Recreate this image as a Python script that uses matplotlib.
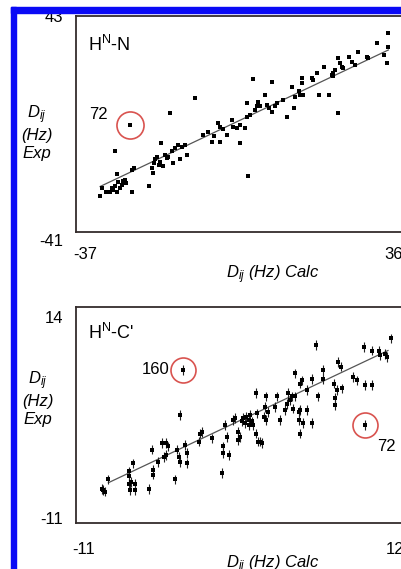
import matplotlib
matplotlib.use('Agg')
from matplotlib import pyplot as plt
from matplotlib.patches import Rectangle
import numpy as np

plt.rcParams['font.family'] = ['Liberation Sans', 'DejaVu Sans']
plt.rcParams['mathtext.fontset'] = 'custom'
plt.rcParams['mathtext.rm'] = 'Liberation Sans'
plt.rcParams['mathtext.it'] = 'Liberation Sans:italic'

# H^N-N couplings (Hz): calculated vs experimental
n_calc = [-33.4, -33.0, -31.9, -31.1, -30.7, -30.3, -29.9, -29.5, -29.1, -29.5,
          -28.7, -28.3, -27.9, -27.5, -27.3, -25.9, -25.9, -25.5, -29.9, -26.3,
          -21.8, -20.8, -21.2, -20.7, -20.4, -20.0, -19.6, -19.2, -18.9, -18.5,
          -18.1, -17.7, -17.3, -16.9, -16.5, -16.1, -15.7, -14.9, -14.5, -14.1,
          -12.9, -13.3, -11.0, -9.2, -7.8, -7.0, -6.6, -5.5, -5.1, -5.1,
          -4.3, -3.5, -2.3, -1.9, -1.1, -0.3, -0.3, 0.9, 1.2, 1.2,
          1.6, 2.0, 2.8, 3.2, 3.6, 4.0, 4.4, 5.6, 6.0, 6.4,
          7.2, 7.2, 7.9, 8.3, 9.9, 10.7, 11.9, 12.3, 12.7, 13.5,
          13.9, 14.3, 14.3, 14.6, 16.6, 17.0, 17.8, 18.2, 19.4, 20.6,
          21.3, 21.7, 22.1, 22.9, 22.9, 23.3, 23.7, 24.1, 25.3, 26.1,
          27.6, 26.9, 29.6, 30.0, 32.0, 33.6, 34.3, 34.7, 34.7, 21.7]
n_exp = [-24.0, -20.9, -22.2, -22.5, -20.9, -21.5, -20.3, -22.2, -18.8, -15.6,
         -20.9, -19.7, -18.4, -17.8, -19.0, -22.5, -14.1, -13.4, -7.0, 2.7,
         -20.0, -15.3, -13.4, -11.6, -10.1, -9.1, -12.2, -11.0, -4.1, -12.8,
         -8.5, -9.7, -9.1, 7.1, -7.2, -11.6, -6.0, -4.7, -10.1, -5.4,
         -8.5, -4.7, 12.9, -1.0, -0.1, -3.5, -1.6, 3.4, 2.1, -3.5,
         1.1, -1.0, 4.6, 2.1, 1.5, -4.1, 2.7, 1.5, 5.8, 10.8,
         -16.3, 6.5, 19.9, 8.3, 9.6, 11.4, 9.6, 13.9, 10.2, 8.9,
         18.9, 7.7, 9.6, 10.8, 12.1, 5.8, 17.0, 8.9, 13.3, 15.2,
         13.9, 20.1, 18.3, 13.9, 20.1, 19.5, 22.0, 13.9, 24.5, 13.9,
         21.4, 22.0, 23.3, 7.1, 27.6, 25.7, 24.5, 23.9, 28.2, 26.4,
         30.1, 25.1, 28.2, 27.6, 33.2, 28.9, 25.7, 36.9, 32.0, 20.8]
n_fit_x = [-33.4, 34.7]
n_fit_y = [-20.3, 30.7]
n_out = (-26.3, 2.7)   # residue 72

# H^N-C' couplings (Hz)
c_calc = [-9.7, -9.6, -9.45, -9.2, -7.7, -7.7, -7.7, -7.6, -7.5, -7.35,
          -7.2, -7.2, -6.2, -6.0, -5.9, -5.9, -5.5, -5.25, -5.1, -4.9,
          -4.9, -4.8, -4.3, -4.1, -4.0, -3.9, -3.9, -3.7, -3.5, -3.4,
          -3.4, -2.5, -2.4, -2.3, -1.55, -0.8, -0.7, -0.7, -0.55, -0.45,
          -0.3, 0.05, 0.2, 0.4, 0.4, 0.55, 0.7, 0.8, 0.9, 1.0,
          1.2, 1.2, 1.3, 1.4, 1.5, 1.7, 1.7, 1.8, 1.9, 2.0,
          2.15, 2.3, 2.4, 2.5, 2.5, 2.65, 3.1, 3.3, 3.5, 3.9,
          4.0, 4.1, 4.25, 4.4, 4.5, 4.6, 4.6, 4.9, 4.9, 5.0,
          5.0, 5.1, 5.2, 5.5, 5.5, 5.0, 5.9, 5.9, 6.2, 6.35,
          6.7, 6.7, 7.5, 7.6, 7.6, 7.7, 7.8, 8.0, 8.1, 8.9,
          9.2, 9.7, 9.8, 9.8, 10.3, 10.3, 10.8, 10.9, 11.3, 11.4, 11.7]
c_exp = [-7.2, -7.3, -7.5, -6.0, -5.0, -5.6, -6.5, -7.3, -6.3, -4.0,
         -6.5, -7.3, -7.2, -2.3, -4.8, -5.4, -3.8, -1.5, -3.2, -3.0,
         -1.5, -1.9, -6.0, -2.3, -3.2, -3.8, 2.0, 7.6, -1.7, -2.75,
         -4.0, -1.3, -0.3, -0.1, -0.9, -5.2, -1.9, -2.75, 0.8, -0.7,
         -3.0, 1.4, 1.6, -1.1, -0.1, -0.7, 1.2, 1.6, 1.0, 1.8,
         1.4, 0.8, 2.0, 1.2, 0.8, 4.7, -0.3, 2.2, -1.3, -1.3,
         -1.5, 1.8, 3.0, 4.3, 1.4, 2.4, 3.0, 4.3, 1.4, 2.6,
         3.4, 4.7, 3.85, 4.3, 2.8, 7.15, 4.3, 1.4, 2.4, 5.9,
         2.6, 6.3, 1.0, 5.1, 2.6, -0.3, 6.5, 1.0, 10.7, 4.3,
         7.6, 6.5, 5.9, 4.1, 3.2, 5.1, 8.6, 8.0, 5.3, 6.7,
         6.3, 10.45, 5.7, 0.8, 5.7, 10.0, 10.0, 9.4, 9.6, 9.2, 11.5]
c_err = 0.6
c_fit_x = [-9.2, 11.5]
c_fit_y = [-6.4, 10.0]
c_out = [(-3.7, 7.6, '160'), (9.8, 0.8, '72')]

W, H = 401, 569
fig = plt.figure(figsize=(W / 100, H / 100), dpi=100)
fig.patch.set_facecolor('white')

edge = '#342c2c'
fs = 12


def frame(ax, xl, yl):
    ax.set_xlim(xl)
    ax.set_ylim(yl)
    ax.set_xticks([])
    ax.set_yticks([])
    for s in ax.spines.values():
        s.set_color(edge)
        s.set_linewidth(1.3)


def ticklabels(ax, xt, yt, xpad):
    for v in xt:
        ax.annotate(str(v), xy=(v, 0), xycoords=('data', 'axes fraction'),
                    xytext=(0, -xpad), textcoords='offset pixels',
                    ha='center', va='center', fontsize=fs, annotation_clip=False)
    for v in yt:
        ax.annotate(str(v), xy=(0, v), xycoords=('axes fraction', 'data'),
                    xytext=(-13, 0), textcoords='offset pixels',
                    ha='right', va='center', fontsize=fs, annotation_clip=False)


# ---- top panel: H^N-N
ax1 = fig.add_axes([76 / W, 1 - 232 / H, 339 / W, 216 / H])
frame(ax1, (-39.1, 41.0), (-37.3, 43.4))
ax1.plot(n_fit_x, n_fit_y, color='#555555', lw=0.9, zorder=2)
ax1.plot(n_calc, n_exp, 's', color='k', ms=3.0, mew=0, zorder=3)
ax1.plot(*n_out, 'o', ms=19.5, mfc='none', mec='#d9534f', mew=1.2, zorder=4)
ax1.annotate('72', xy=n_out, xytext=(-22, 10), textcoords='offset pixels',
             ha='right', va='center', fontsize=fs)
ax1.annotate(r'H$^{\rm N}$-N', xy=(0, 1), xycoords='axes fraction',
             xytext=(12, -29), textcoords='offset pixels',
             ha='left', va='center', fontsize=13)
ticklabels(ax1, [-37, 36], [43, -41], 23)

# ---- bottom panel: H^N-C'
ax2 = fig.add_axes([76 / W, 1 - 523 / H, 339 / W, 216 / H])
frame(ax2, (-11.6, 13.5), (-11.4, 15.4))
ax2.plot(c_fit_x, c_fit_y, color='#555555', lw=0.9, zorder=2)
ax2.errorbar(c_calc, c_exp, yerr=c_err, fmt='s', color='k', ms=3.0, mew=0,
             ecolor='#222222', elinewidth=0.8, capsize=2.0, capthick=0.8, zorder=3)
for x, y, lab in c_out:
    ax2.plot(x, y, 'o', ms=18, mfc='none', mec='#d9534f', mew=1.2, zorder=4)
ax2.annotate(c_out[0][2], xy=c_out[0][:2], xytext=(-13, 0), textcoords='offset pixels',
             ha='right', va='center', fontsize=fs)
ax2.annotate(c_out[1][2], xy=c_out[1][:2], xytext=(12, -22), textcoords='offset pixels',
             ha='left', va='center', fontsize=fs)
ax2.annotate(r"H$^{\rm N}$-C'", xy=(0, 1), xycoords='axes fraction',
             xytext=(12, -26), textcoords='offset pixels',
             ha='left', va='center', fontsize=13)
ticklabels(ax2, [-11, 12], [14, -11], 27)

# axis titles
ylab = '$D_{ij}$\n(Hz)\nExp'
fig.text(37 / W, 1 - 132 / H, ylab, ha='center', va='center', fontsize=fs,
         style='italic', linespacing=1.2)
fig.text(38 / W, 1 - 398 / H, ylab, ha='center', va='center', fontsize=fs,
         style='italic', linespacing=1.2)
xlab = '$D_{ij}$ (Hz) Calc'
fig.text(273 / W, 1 - 275 / H, xlab, ha='center', va='center', fontsize=fs, style='italic')
fig.text(273 / W, 1 - 565 / H, xlab, ha='center', va='center', fontsize=fs, style='italic')

# blue frame of the original figure
blue = '#0a0af5'
fig.patches.append(Rectangle((11 / W, 1 - 13 / H), 1, 6 / H, transform=fig.transFigure,
                             color=blue, zorder=10))
fig.patches.append(Rectangle((11 / W, 0), 5 / W, 1 - 7 / H, transform=fig.transFigure,
                             color=blue, zorder=10))

fig.savefig('out.png', dpi=100)
